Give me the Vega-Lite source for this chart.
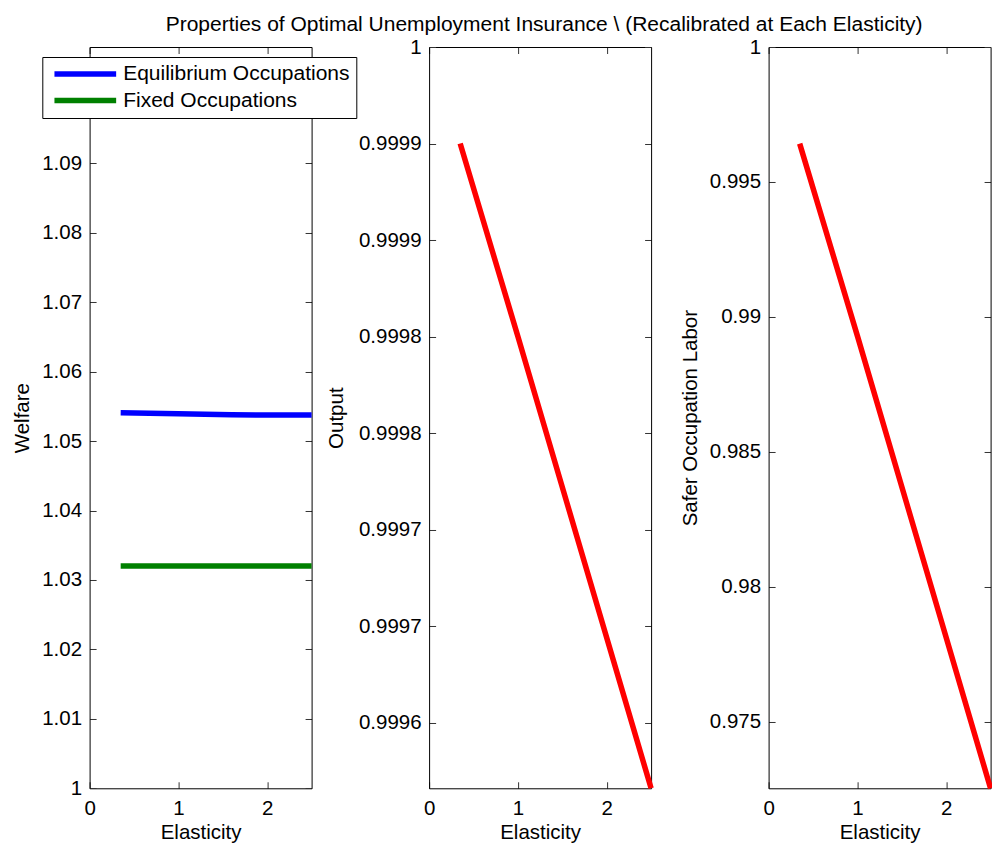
{
  "$schema": "https://vega.github.io/schema/vega-lite/v6.json",
  "padding": {"left": 12.6, "top": 13, "right": 0, "bottom": 0},
  "title": {
    "text": "Properties of Optimal Unemployment Insurance \\ (Recalibrated at Each Elasticity)",
    "fontSize": 21,
    "fontWeight": "normal",
    "font": "Liberation Sans",
    "color": "black",
    "anchor": "middle",
    "baseline": "top",
    "offset": 2.5,
    "dx": 37
  },
  "datasets": {
    "welfare": [
      {"elasticity": 0.35, "welfare": 1.05408, "series": "Equilibrium Occupations"},
      {"elasticity": 1.0, "welfare": 1.05395, "series": "Equilibrium Occupations"},
      {"elasticity": 1.6, "welfare": 1.05378, "series": "Equilibrium Occupations"},
      {"elasticity": 2.5, "welfare": 1.05375, "series": "Equilibrium Occupations"},
      {"elasticity": 0.35, "welfare": 1.032, "series": "Fixed Occupations"},
      {"elasticity": 2.5, "welfare": 1.032, "series": "Fixed Occupations"}
    ],
    "output": [
      {"elasticity": 0.35, "output": 0.99995},
      {"elasticity": 1.0, "output": 0.99985},
      {"elasticity": 2.5, "output": 0.999616}
    ],
    "labor": [
      {"elasticity": 0.35, "labor": 0.99642},
      {"elasticity": 1.0, "labor": 0.9893},
      {"elasticity": 2.5, "labor": 0.97254}
    ]
  },
  "config": {
    "font": "Liberation Sans",
    "view": {"stroke": null},
    "axis": {
      "grid": false,
      "domainColor": "black",
      "domainWidth": 1,
      "tickColor": "#333333",
      "tickWidth": 1,
      "tickSize": -6.5,
      "labelColor": "black",
      "titleColor": "black",
      "labelFontSize": 20.5,
      "titleFontSize": 20.5,
      "titleFontWeight": "normal",
      "labelFont": "Liberation Sans",
      "titleFont": "Liberation Sans",
      "labelOverlap": false,
      "labelFlush": false
    },
    "line": {"strokeWidth": 5.5, "strokeCap": "butt"}
  },
  "spacing": 117.5,
  "bounds": "flush",
  "hconcat": [
    {
      "width": 222,
      "height": 741.3,
      "data": {"name": "welfare"},
      "layer": [
        {
          "mark": {"type": "line", "strokeWidth": 5.5},
          "encoding": {
            "x": {"field": "elasticity", "type": "quantitative",
              "scale": {"domain": [0, 2.5], "nice": false, "zero": false},
              "axis": {"orient": "bottom", "values": [0, 1, 2], "format": "d", "title": "Elasticity", "labelPadding": 17, "titlePadding": 3.5}},
            "y": {"field": "welfare", "type": "quantitative",
              "scale": {"domain": [1, 1.10675], "nice": false, "zero": false},
              "axis": {"orient": "left", "values": [1, 1.01, 1.02, 1.03, 1.04, 1.05, 1.06, 1.07, 1.08, 1.09], "format": ".2~f", "title": "Welfare", "labelPadding": 14.5, "titlePadding": 9}},
            "color": {"field": "series", "type": "nominal",
              "scale": {"domain": ["Equilibrium Occupations", "Fixed Occupations"], "range": ["#0000ff", "#008000"]},
              "legend": {"orient": "none", "legendX": -47.3, "legendY": 10, "title": null,
                "symbolType": "stroke", "symbolSize": 3807, "symbolStrokeWidth": 6,
                "labelFontSize": 21, "labelColor": "black", "labelLimit": 400,
                "strokeColor": "black", "fillColor": "white", "padding": 6,
                "clipHeight": 22, "rowPadding": 4.5, "symbolOffset": 3, "labelOffset": 3.9}}
          }
        },
        {
          "mark": {"type": "line", "opacity": 0},
          "encoding": {
            "x": {"field": "elasticity", "type": "quantitative",
              "scale": {"domain": [0, 2.5], "nice": false, "zero": false},
              "axis": {"orient": "top", "values": [0, 1, 2], "labels": false, "title": null}},
            "y": {"field": "welfare", "type": "quantitative",
              "scale": {"domain": [1, 1.10675], "nice": false, "zero": false},
              "axis": {"orient": "right", "values": [1, 1.01, 1.02, 1.03, 1.04, 1.05, 1.06, 1.07, 1.08, 1.09], "labels": false, "title": null}}
          }
        }
      ],
      "resolve": {"axis": {"x": "independent", "y": "independent"}}
    },
    {
      "width": 222,
      "height": 741.3,
      "data": {"name": "output"},
      "layer": [
        {
          "mark": {"type": "line", "strokeWidth": 5.5, "color": "#ff0000"},
          "encoding": {
            "x": {"field": "elasticity", "type": "quantitative",
              "scale": {"domain": [0, 2.5], "nice": false, "zero": false},
              "axis": {"orient": "bottom", "values": [0, 1, 2], "format": "d", "title": "Elasticity", "labelPadding": 17, "titlePadding": 3.5}},
            "y": {"field": "output", "type": "quantitative",
              "scale": {"domain": [0.999616, 1], "nice": false, "zero": false},
              "axis": {"orient": "left", "values": [0.99965, 0.9997, 0.99975, 0.9998, 0.99985, 0.9999, 0.99995, 1],
                "labelExpr": "datum.value >= 0.999999 ? '1' : format(floor(datum.value * 10000 + 0.0000001) / 10000, '.4f')",
                "title": "Output", "labelPadding": 14.5, "titlePadding": 12}}
          }
        },
        {
          "mark": {"type": "line", "opacity": 0},
          "encoding": {
            "x": {"field": "elasticity", "type": "quantitative",
              "scale": {"domain": [0, 2.5], "nice": false, "zero": false},
              "axis": {"orient": "top", "values": [0, 1, 2], "labels": false, "title": null}},
            "y": {"field": "output", "type": "quantitative",
              "scale": {"domain": [0.999616, 1], "nice": false, "zero": false},
              "axis": {"orient": "right", "values": [0.99965, 0.9997, 0.99975, 0.9998, 0.99985, 0.9999, 0.99995, 1], "labels": false, "title": null}}
          }
        }
      ],
      "resolve": {"axis": {"x": "independent", "y": "independent"}}
    },
    {
      "width": 222,
      "height": 741.3,
      "data": {"name": "labor"},
      "layer": [
        {
          "mark": {"type": "line", "strokeWidth": 5.5, "color": "#ff0000"},
          "encoding": {
            "x": {"field": "elasticity", "type": "quantitative",
              "scale": {"domain": [0, 2.5], "nice": false, "zero": false},
              "axis": {"orient": "bottom", "values": [0, 1, 2], "format": "d", "title": "Elasticity", "labelPadding": 17, "titlePadding": 3.5}},
            "y": {"field": "labor", "type": "quantitative",
              "scale": {"domain": [0.972544, 1], "nice": false, "zero": false},
              "axis": {"orient": "left", "values": [0.975, 0.98, 0.985, 0.99, 0.995, 1], "format": ".3~f",
                "title": "Safer Occupation Labor", "labelPadding": 14.5, "titlePadding": 9}}
          }
        },
        {
          "mark": {"type": "line", "opacity": 0},
          "encoding": {
            "x": {"field": "elasticity", "type": "quantitative",
              "scale": {"domain": [0, 2.5], "nice": false, "zero": false},
              "axis": {"orient": "top", "values": [0, 1, 2], "labels": false, "title": null}},
            "y": {"field": "labor", "type": "quantitative",
              "scale": {"domain": [0.972544, 1], "nice": false, "zero": false},
              "axis": {"orient": "right", "values": [0.975, 0.98, 0.985, 0.99, 0.995, 1], "labels": false, "title": null}}
          }
        }
      ],
      "resolve": {"axis": {"x": "independent", "y": "independent"}}
    }
  ]
}
